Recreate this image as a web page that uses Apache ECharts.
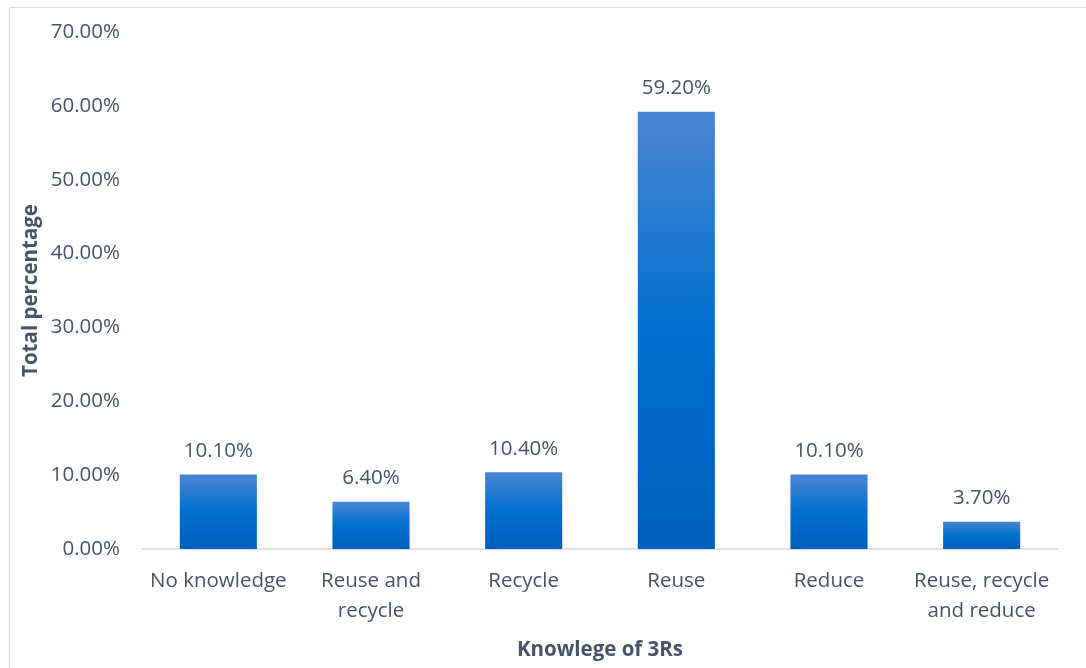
<!DOCTYPE html>
<html><head><meta charset="utf-8">
<script src="https://cdn.jsdelivr.net/npm/echarts@6/dist/echarts.min.js"></script>
<style>html,body{margin:0;padding:0;background:#fff}#c{width:1086px;height:668px}</style>
</head><body><div id="c"></div>
<script>
const categories = ["No knowledge", "Reuse and\nrecycle", "Recycle", "Reuse", "Reduce", "Reuse, recycle\nand reduce"];
const values = [10.1, 6.4, 10.4, 59.2, 10.1, 3.7];
const yTicks = [0, 10, 20, 30, 40, 50, 60, 70];

const txt = '#44546a';
const font = 'Open Sans';
const fs = 20.5;
const chart = echarts.init(document.getElementById('c'));
chart.setOption({
  animation: false,
  graphic: [{type:'rect', shape:{x:9.5,y:7.5,width:1090,height:670}, style:{fill:'none', stroke:'#d9dee5', lineWidth:1}}],
  grid: {left:142, right:28, top:32, bottom:119, containLabel:false, outerBoundsMode:'none'},
  xAxis: {
    type:'category', data:categories,
    axisLine:{lineStyle:{color:'#d9d9d9', width:1.5}},
    axisTick:{show:false},
    axisLabel:{color:txt, fontSize:fs, fontFamily:font, margin:17, lineHeight:30, interval:0},
    name:'Knowlege of 3Rs', nameLocation:'middle', nameGap:91,
    nameTextStyle:{color:txt, fontSize:fs, fontWeight:'bold', fontFamily:font}
  },
  yAxis: {
    type:'value', min:yTicks[0], max:yTicks[yTicks.length-1], interval:10,
    axisLine:{show:false}, axisTick:{show:false}, splitLine:{show:false},
    axisLabel:{color:txt, fontSize:fs, fontFamily:font, margin:22, formatter:v=>v.toFixed(2)+'%'},
    name:'Total percentage', nameLocation:'middle', nameGap:100, nameRotate:90, nameMoveOverlap:false,
    nameTextStyle:{color:txt, fontSize:fs, fontWeight:'bold', fontFamily:font}
  },
  series: [{
    type:'bar', data:values, barWidth:'50.5%',
    itemStyle:{color:new echarts.graphic.LinearGradient(0,0,0,1,[
      {offset:0,color:'#4a86d2'},{offset:0.5,color:'#0070d0'},{offset:1,color:'#005fbd'}])},
    label:{show:true, position:'top', distance:13, color:txt, fontSize:fs, fontFamily:font,
      formatter:p=>p.value.toFixed(2)+'%'}
  }]
});
</script></body></html>
